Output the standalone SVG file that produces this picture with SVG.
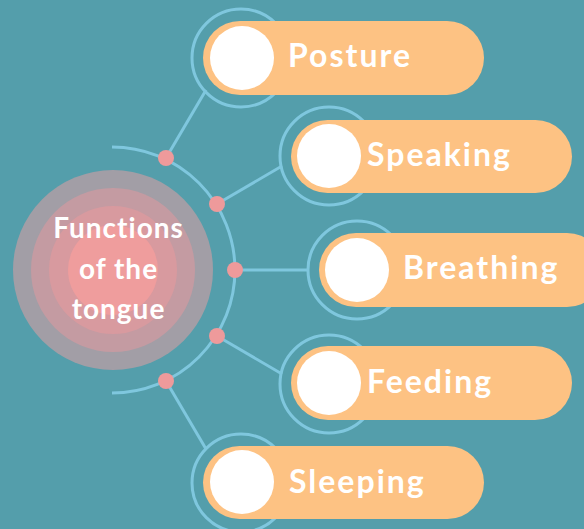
<svg xmlns="http://www.w3.org/2000/svg" width="584" height="529" viewBox="0 0 584 529">
<style>
.conn{stroke:#7FC7DE;stroke-width:3;fill:none}
.ring{stroke:#7FC7DE;stroke-width:3;fill:none}
.dot{fill:#EE9A9B}
.pill{fill:#FDC283}
.hole{fill:#FFFFFF}
.lbl{font-family:Lato,"Open Sans",sans-serif;font-weight:bold;font-size:32px;letter-spacing:2px;fill:#FFFFFF}
.ctr{font-family:Lato,"Open Sans",sans-serif;font-weight:bold;font-size:28px;letter-spacing:1px;fill:#FFFFFF;text-anchor:middle}
</style>
<rect width="584" height="529" fill="#549EAB"/>
<g id="connectors">
<path class="conn" d="M112,147 A123,123 0 0 1 112,393"/>
<line class="conn" x1="166" y1="158" x2="206" y2="90"/>
<line class="conn" x1="217" y1="204" x2="282" y2="166"/>
<line class="conn" x1="235" y1="270" x2="309" y2="270"/>
<line class="conn" x1="217" y1="336" x2="282" y2="374"/>
<line class="conn" x1="166" y1="381" x2="206" y2="449"/>
<circle class="dot" cx="166" cy="158" r="8"/>
<circle class="dot" cx="217" cy="204" r="8"/>
<circle class="dot" cx="235" cy="270" r="8"/>
<circle class="dot" cx="217" cy="336" r="8"/>
<circle class="dot" cx="166" cy="381" r="8"/>
</g>
<g id="center">
<circle cx="113" cy="270" r="100" fill="#A29EA6"/>
<circle cx="113" cy="270" r="82" fill="#C49BA2"/>
<circle cx="113" cy="270" r="64" fill="#D89A9F"/>
<circle cx="113" cy="270" r="45" fill="#EF9D9D"/>
<text class="ctr" x="118.5" y="238">Functions</text>
<text class="ctr" x="118.5" y="279">of the</text>
<text class="ctr" x="118.5" y="319">tongue</text>
</g>
<g id="posture">
<circle class="ring" cx="241" cy="58" r="49"/>
<rect class="pill" x="203" y="21" width="281" height="74" rx="37"/>
<circle class="hole" cx="242" cy="58" r="32"/>
<text class="lbl" x="288" y="67">Posture</text>
</g>
<g id="speaking">
<circle class="ring" cx="329" cy="156" r="49"/>
<rect class="pill" x="291" y="120" width="281" height="73" rx="36.5"/>
<circle class="hole" cx="329" cy="156" r="32"/>
<text class="lbl" x="367" y="166">Speaking</text>
</g>
<g id="breathing">
<circle class="ring" cx="357" cy="270" r="49"/>
<rect class="pill" x="319" y="233" width="285" height="74" rx="37"/>
<circle class="hole" cx="357" cy="270" r="32"/>
<text class="lbl" x="403" y="279">Breathing</text>
</g>
<g id="feeding">
<circle class="ring" cx="329" cy="384" r="49"/>
<rect class="pill" x="291" y="346" width="281" height="74" rx="37"/>
<circle class="hole" cx="329" cy="383" r="32"/>
<text class="lbl" x="367" y="393">Feeding</text>
</g>
<g id="sleeping">
<circle class="ring" cx="241" cy="483" r="49"/>
<rect class="pill" x="203" y="446" width="281" height="73" rx="36.5"/>
<circle class="hole" cx="242" cy="482" r="32"/>
<text class="lbl" x="289" y="493">Sleeping</text>
</g>
</svg>
